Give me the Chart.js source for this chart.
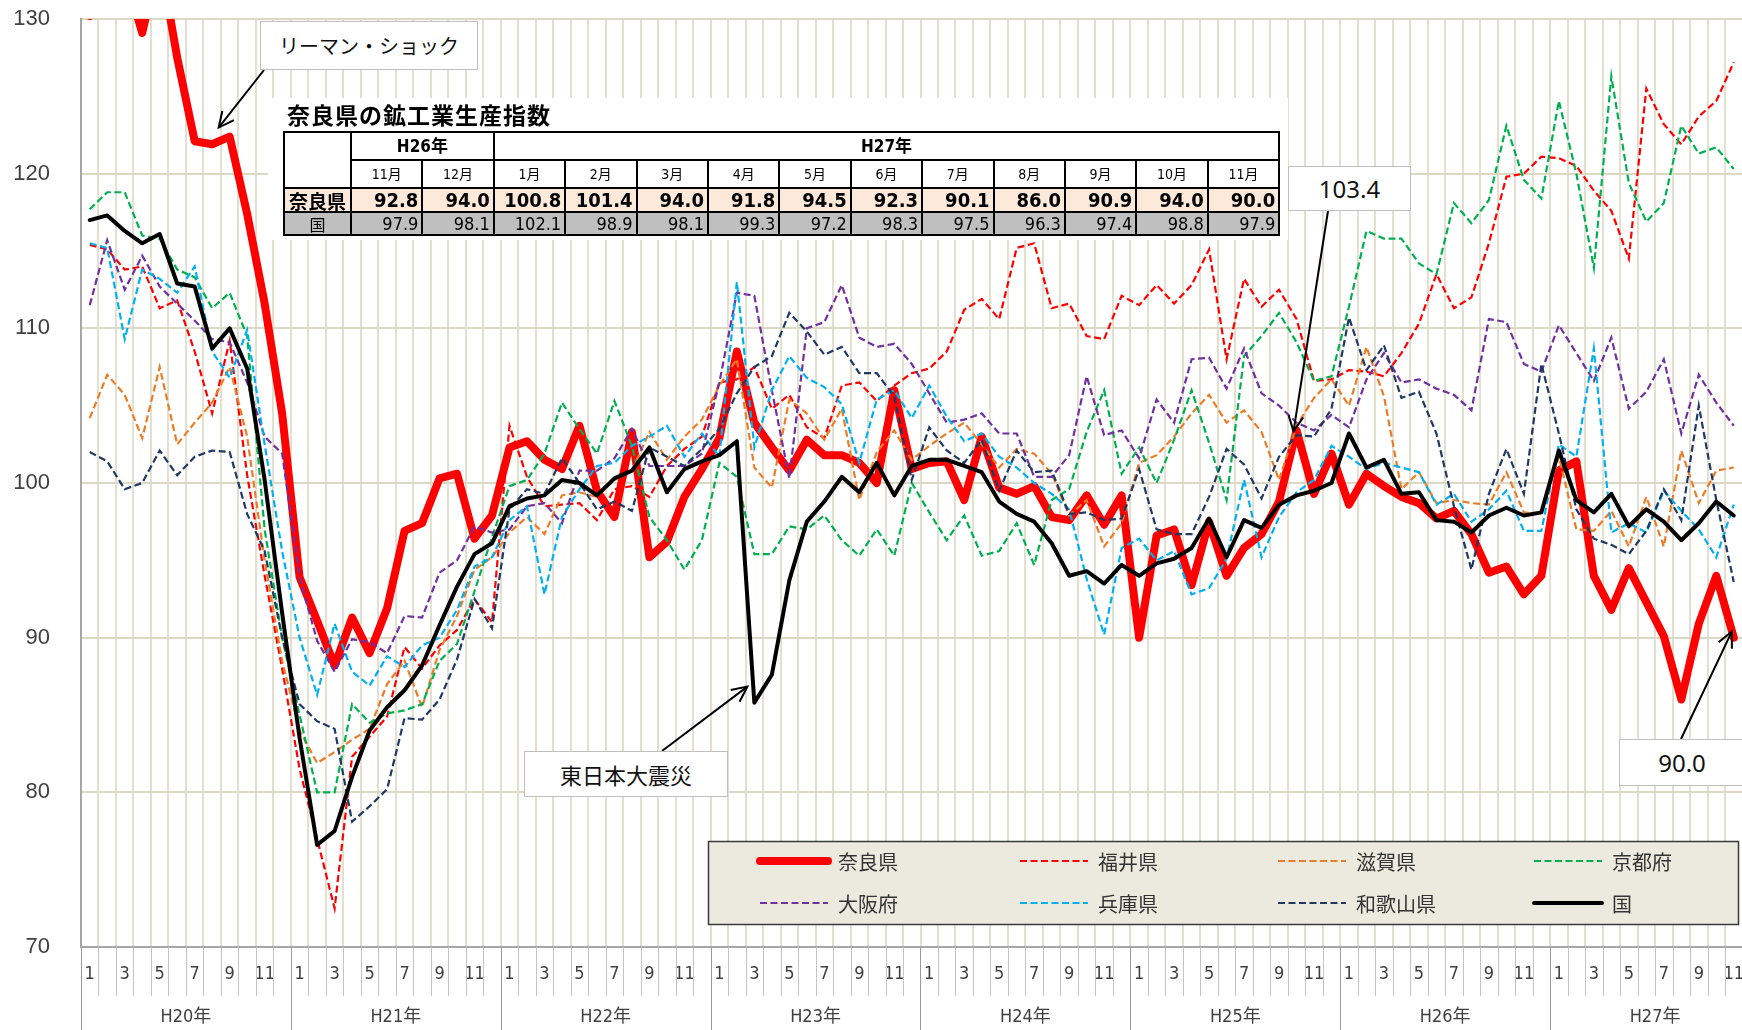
<!DOCTYPE html>
<html><head><meta charset="utf-8">
<script src="https://cdn.jsdelivr.net/npm/chart.js"></script>
<style>
html,body{margin:0;padding:0;background:#fff;overflow:hidden;width:1742px;height:1030px;}
#wrap{position:relative;width:1742px;height:1030px;overflow:hidden;}
#c{position:absolute;left:0;top:0;}
.note{position:absolute;background:#fff;border:1.5px solid #bfbfbf;color:#111;display:flex;align-items:center;justify-content:center;box-sizing:border-box;white-space:nowrap;}
#tbox{position:absolute;left:268px;top:98px;width:1020px;height:142px;background:#fff;}
#ttl{position:absolute;left:287px;top:100px;font:bold 23px 'Noto Sans CJK JP',sans-serif;letter-spacing:1px;color:#000;line-height:28px;}
#tbl{position:absolute;left:283px;top:131px;border-collapse:collapse;table-layout:fixed;width:996px;font-family:'Liberation Sans Narrow','DejaVu Sans Condensed','Noto Sans CJK JP',sans-serif;color:#000;}
#tbl td{border:2px solid #000;padding:0 3px;line-height:1;overflow:hidden;}
</style></head>
<body><div id="wrap">
<canvas id="c" width="1770" height="1030"></canvas>
<div id="tbox"></div>
<div id="ttl">奈良県の鉱工業生産指数</div>
<table id="tbl"></table>
<div class="note" style="left:260px;top:21px;width:218px;height:49px;font:20px 'Noto Sans CJK JP',sans-serif;">リーマン・ショック</div>
<div class="note" style="left:524px;top:751px;width:204px;height:46px;font:22px 'Noto Sans CJK JP',sans-serif;">東日本大震災</div>
<div class="note" style="left:1288px;top:166px;width:123px;height:45px;font:24px 'Noto Sans',sans-serif;">103.4</div>
<div class="note" style="left:1619px;top:739px;width:126px;height:47px;font:24px 'Noto Sans',sans-serif;">90.0</div>
</div>
<script>
const years = ['H20年','H21年','H22年','H23年','H24年','H25年','H26年','H27年'];
const months = ['1','2','3','4','5','6','7','8','9','10','11','12'];
const categories = years.flatMap(y => months.map(m => y + m + '月'));
const seriesNames = ['奈良県','福井県','滋賀県','京都府','大阪府','兵庫県','和歌山県','国'];

const nara = [
 130.2,134,133,129.1,134,127.5,122.1,121.9,122.4,117.4,111.6,104.5,
 93.9,91.1,88.2,91.3,89.0,91.9,96.9,97.4,100.3,100.6,96.4,97.9,
 102.3,102.7,101.5,100.9,103.7,99.5,97.8,103.3,95.2,96.2,99.1,100.9,
 102.9,108.5,103.9,102.3,100.8,102.8,101.8,101.8,101.3,100.0,106.0,100.9,
 101.3,101.4,98.9,103.0,99.7,99.3,99.8,97.8,97.6,99.2,97.3,99.2,
 90.0,96.6,97.0,93.4,97.5,94.0,95.8,96.7,98.8,103.4,99.3,101.9,
 98.6,100.6,99.8,99.1,98.7,97.7,98.2,96.7,94.2,94.6,92.8,94.0,
 100.8,101.4,94.0,91.8,94.5,92.3,90.1,86.0,90.9,94.0,90.0];
const fukui = [
 115.4,115.1,113.8,114.0,111.3,111.8,108.5,104.5,109.2,100.5,94.0,88.0,
 81.5,77.0,72.5,82.3,83.6,84.9,89.4,88.0,89.5,90.5,92.5,91.0,
 103.7,100.4,98.5,98.6,98.7,97.6,99.6,99.8,99.1,101.1,102.2,103.0,
 106.5,106.7,107.5,104.8,105.7,103.6,102.9,106.3,106.5,105.3,106.3,107.1,
 107.4,108.5,111.2,111.9,110.6,115.2,115.5,111.3,111.6,109.5,109.3,112.1,
 111.5,112.8,111.6,112.8,115.1,108.0,113.2,111.4,112.5,110.6,106.6,106.7,
 107.3,107.2,106.9,108.4,110.3,113.5,111.3,112.0,115.5,119.8,120.0,121.1,
 121.0,120.5,118.9,117.6,114.5,125.5,123.2,121.9,123.7,124.7,127.2];
const shiga = [
 104.2,107.0,105.7,102.9,107.5,102.5,103.9,105.2,107.5,103.0,95.0,88.5,
 84.0,81.9,82.6,83.4,84.1,87.0,88.5,85.5,89.2,91.4,94.4,95.2,
 96.8,97.8,96.7,99.2,99.4,99.1,100.2,100.8,103.3,101.5,103.0,104.1,
 106.3,108.0,101.0,99.7,105.4,104.5,102.8,104.8,98.9,102.0,103.4,101.5,
 102.4,103.2,103.9,102.5,101.0,102.2,101.9,100.6,97.9,98.9,95.9,97.4,
 101.3,101.8,103.0,104.5,105.7,103.9,104.7,103.3,100.2,103.7,105.5,106.7,
 105.0,108.8,105.6,99.6,100.7,98.7,98.9,98.7,98.6,100.7,98.1,98.0,
 101.7,97.0,96.9,98.2,95.9,99.1,95.9,102.1,98.7,100.8,101.0];
const kyoto = [
 117.7,118.8,118.8,116.0,115.8,113.8,113.3,111.3,112.3,109.5,97.0,90.0,
 85.0,80.0,80.0,85.7,84.5,85.1,85.3,85.7,88.5,89.6,93.0,96.5,
 99.8,100.2,101.9,105.2,103.5,101.9,105.3,102.4,97.8,96.3,94.4,96.3,
 101.3,100.4,95.4,95.4,97.2,97.0,97.9,96.3,95.3,97.0,95.3,100.0,
 98.1,96.3,97.9,95.3,95.6,97.4,94.7,98.9,99.6,103.3,106.0,100.6,
 102.3,100.0,102.8,106.0,102.6,98.9,108.2,109.5,111.0,109.1,106.6,106.9,
 111.4,116.3,115.8,115.8,114.2,113.5,118.1,116.8,118.3,123.1,119.6,118.4,
 124.7,120.0,113.9,126.3,119.4,116.9,118.1,123.1,121.3,121.7,120.3];
const osaka = [
 111.5,115.7,112.5,114.7,112.7,111.6,110.5,109.3,109.1,106.5,103.0,101.9,
 93.9,89.8,87.8,89.9,89.7,89.0,91.4,91.3,94.2,95.0,97.2,96.8,
 97.0,98.5,98.7,97.4,100.8,100.8,101.6,103.5,101.1,101.1,101.1,101.9,
 106.5,112.3,112.1,106.0,100.3,110.0,110.4,112.8,109.4,108.8,109.0,107.7,
 105.8,103.9,104.1,104.5,103.2,103.2,100.4,100.4,101.8,106.9,103.1,103.4,
 101.6,105.4,103.9,108.0,108.1,106.1,108.7,105.8,105.0,103.9,103.4,104.4,
 103.6,106.7,108.4,106.5,106.7,106.1,105.7,104.7,110.6,110.4,107.7,107.2,
 110.2,108.4,106.6,109.4,104.8,105.9,108.0,103.2,107.0,105.2,103.7];
const hyogo = [
 115.5,115.2,109.3,113.8,113.2,112.3,114.0,108.5,106.8,109.9,102.5,95.6,
 90.0,86.3,90.9,87.8,86.9,88.8,88.1,89.5,90.0,91.8,94.6,95.2,
 97.6,98.5,92.8,97.8,99.6,101.1,101.3,102.4,103.0,103.7,101.7,103.2,
 101.7,113.0,102.3,106.0,108.2,106.8,106.2,105.1,101.3,105.4,106.0,104.2,
 106.3,104.3,102.7,103.2,101.7,101.0,100.0,99.3,98.3,93.8,90.2,95.8,
 96.4,95.0,95.6,92.8,93.2,95.1,100.2,95.2,97.8,99.4,100.2,102.4,
 101.7,100.9,101.3,101.0,100.7,98.6,99.3,97.5,98.3,99.5,96.9,96.9,
 102.5,101.7,108.7,96.8,97.4,96.8,99.5,98.2,97.0,95.2,98.6];
const wakayama = [
 102.0,101.4,99.6,100.0,102.1,100.5,101.7,102.1,102.0,98.0,95.6,90.0,
 85.7,84.6,84.1,78.1,79.1,80.2,84.8,84.7,86.0,88.6,92.5,90.6,
 98.3,99.6,99.3,101.6,100.0,98.3,98.8,98.2,102.3,101.7,101.1,102.2,
 103.5,105.8,107.5,108.2,111.0,109.8,108.3,108.8,107.1,107.1,105.6,100.2,
 103.6,102.1,101.3,102.8,99.5,102.1,100.7,100.8,98.0,98.1,97.6,97.7,
 100.9,97.0,96.7,96.7,99.1,102.2,101.2,99.0,101.7,103.1,103.0,104.8,
 110.7,107.3,108.9,105.5,105.9,103.2,98.5,94.4,99.3,102.2,99.3,107.7,
 103.2,98.3,96.4,96.0,95.4,96.9,99.6,97.6,105.0,98.9,93.6];
const kuni = [
 117.0,117.3,116.3,115.5,116.1,112.9,112.7,108.7,110.0,107.4,100.2,91.6,
 83.5,76.6,77.5,81.0,84.0,85.5,86.6,88.2,90.8,93.3,95.4,96.1,
 98.5,99.0,99.2,100.2,100.0,99.2,100.3,100.8,102.3,99.4,100.9,101.4,
 101.8,102.7,85.8,87.6,93.7,97.5,98.8,100.4,99.4,101.3,99.2,101.1,
 101.5,101.5,101.1,100.7,98.8,98.0,97.5,96.1,94.0,94.3,93.5,94.7,
 94.0,94.8,95.1,95.8,97.7,95.2,97.6,97.1,98.6,99.2,99.5,100.0,
 103.2,101.0,101.5,99.3,99.4,97.6,97.5,96.8,97.9,98.4,97.9,98.1,
 102.1,98.9,98.1,99.3,97.2,98.3,97.5,96.3,97.4,98.8,97.9];

const tableYears = ['H26年','H27年'];
const tableMonths = ['11月','12月','1月','2月','3月','4月','5月','6月','7月','8月','9月','10月','11月'];
const tableStart = 82;

// ---- table built from the arrays ----
(function(){
  const t = document.getElementById('tbl');
  const nT = nara.slice(tableStart), kT = kuni.slice(tableStart);
  let h = '<colgroup><col style="width:67px">' + tableMonths.map(()=>'<col style="width:71.4px">').join('') + '</colgroup>';
  h += '<tr style="height:28px"><td rowspan="2"></td><td colspan="2" style="text-align:center;font-weight:bold;font-size:17px">'+tableYears[0]+'</td><td colspan="11" style="text-align:center;font-weight:bold;font-size:17px">'+tableYears[1]+'</td></tr>';
  h += '<tr style="height:28px">' + tableMonths.map(m=>'<td style="text-align:center;font-size:14px">'+m+'</td>').join('') + '</tr>';
  h += '<tr style="height:24px;background:#fde9d9"><td style="text-align:center;font-weight:bold;font-size:19px;font-family:\'Noto Sans CJK JP\'">奈良県</td>' + nT.map(v=>'<td style="text-align:right;font-weight:bold;font-size:20px">'+v.toFixed(1)+'</td>').join('') + '</tr>';
  h += '<tr style="height:23px;background:#bfbfbf"><td style="text-align:center;font-size:16px;font-family:\'Noto Sans CJK JP\'">国</td>' + kT.map(v=>'<td style="text-align:right;font-size:18px">'+v.toFixed(1)+'</td>').join('') + '</tr>';
  t.innerHTML = h;
})();

const seriesData = [nara, fukui, shiga, kyoto, osaka, hyogo, wakayama, kuni];
const seriesColors = ['#ff0000','#ff0000','#ec7c26','#00b050','#7030a0','#00b0f0','#1f3864','#000000'];
const DASH = [7,3.5];
const datasets = seriesNames.map((name, i) => {
  const solid = (i === 0 || i === 7);
  return {
    label: name,
    data: seriesData[i],
    borderColor: seriesColors[i],
    backgroundColor: seriesColors[i],
    borderWidth: i === 0 ? 8 : (i === 7 ? 4 : 2.2),
    borderDash: solid ? [] : DASH,
    borderJoinStyle: solid ? 'round' : 'miter',
    borderCapStyle: solid ? 'round' : 'butt',
    pointRadius: 0,
    tension: 0,
    fill: false,
    clip: 0,
    order: i === 7 ? 0 : (i === 0 ? 8 : 8 - i)
  };
});

function arrow(ctx, x1, y1, x2, y2) {
  ctx.beginPath(); ctx.moveTo(x1, y1); ctx.lineTo(x2, y2); ctx.stroke();
  const a = Math.atan2(y2 - y1, x2 - x1), L = 17, s = 0.45;
  ctx.beginPath();
  ctx.moveTo(x2 - L * Math.cos(a - s), y2 - L * Math.sin(a - s));
  ctx.lineTo(x2, y2);
  ctx.lineTo(x2 - L * Math.cos(a + s), y2 - L * Math.sin(a + s));
  ctx.stroke();
}

const decor = {
  id: 'decor',
  afterDraw(chart) {
    const ctx = chart.ctx, ca = chart.chartArea, xs = chart.scales.x, ys = chart.scales.y;
    const n = categories.length;
    const w = xs.getPixelForValue(1) - xs.getPixelForValue(0);
    ctx.save();
    // category separators below axis
    for (let k = 0; k <= n; k++) {
      const px = Math.round(xs.getPixelForValue(0) - w / 2 + k * w) + 0.5;
      ctx.beginPath();
      ctx.strokeStyle = k % 12 === 0 ? '#9a9a9a' : '#c4c4c4';
      ctx.lineWidth = 1;
      ctx.moveTo(px, ca.bottom);
      ctx.lineTo(px, k % 12 === 0 ? 1030 : 996);
      ctx.stroke();
    }
    // year labels
    ctx.fillStyle = '#404040';
    ctx.font = "18px 'Liberation Sans Narrow','DejaVu Sans Condensed','Noto Sans CJK JP',sans-serif";
    ctx.textAlign = 'center'; ctx.textBaseline = 'middle';
    years.forEach((yl, j) => {
      const cx = (xs.getPixelForValue(12 * j) + xs.getPixelForValue(12 * j + 11)) / 2;
      ctx.fillText(yl, cx, 1017);
    });
    // legend
    ctx.fillStyle = '#ece9df';
    ctx.fillRect(708, 841, 1030, 83);
    ctx.strokeStyle = '#3a3a3a'; ctx.lineWidth = 1.5;
    ctx.strokeRect(708.5, 841.5, 1030, 83);
    const lx = [760, 1020, 1278, 1534], ly = [861, 903];
    chart.data.datasets.forEach((ds, i) => {
      const x0 = lx[i % 4], y0 = ly[Math.floor(i / 4)];
      ctx.save();
      ctx.strokeStyle = ds.borderColor; ctx.lineWidth = ds.borderWidth;
      ctx.setLineDash(ds.borderDash); ctx.lineCap = ds.borderCapStyle;
      ctx.beginPath(); ctx.moveTo(x0, y0); ctx.lineTo(x0 + 68, y0); ctx.stroke();
      ctx.restore();
      ctx.fillStyle = '#333';
      ctx.font = "20px 'Noto Sans CJK JP',sans-serif";
      ctx.textAlign = 'left'; ctx.textBaseline = 'middle';
      ctx.fillText(ds.label, x0 + 78, y0 + 1);
    });
    // arrows to data points
    ctx.strokeStyle = '#000'; ctx.lineWidth = 2; ctx.setLineDash([]); ctx.lineCap = 'butt';
    const P = (i, arr) => [xs.getPixelForValue(i), ys.getPixelForValue(arr[i])];
    let p = P(8, nara); arrow(ctx, 264, 70, p[0] - 11, p[1] - 9);
    p = P(38, kuni); arrow(ctx, 662, 751, p[0] - 7, p[1] - 16);
    p = P(69, nara); arrow(ctx, 1328, 211, p[0] - 3, p[1] + 1);
    p = P(94, nara); arrow(ctx, 1681, 739, p[0] - 2, p[1] - 6);
    ctx.restore();
  }
};

new Chart(document.getElementById('c'), {
  type: 'line',
  data: { labels: categories, datasets: datasets },
  options: {
    responsive: false,
    animation: false,
    layout: { padding: { top: 19, right: 10, left: 0, bottom: 0 } },
    plugins: { legend: { display: false }, tooltip: { enabled: false } },
    scales: {
      x: {
        offset: true,
        grid: { offset: true, color: '#e4e0d0', lineWidth: 2, drawTicks: false },
        border: { color: '#a6a6a6', width: 2 },
        ticks: {
          autoSkip: false, maxRotation: 0, minRotation: 0, padding: 17,
          color: '#404040',
          font: { family: "'Liberation Sans Narrow','DejaVu Sans Condensed',sans-serif", size: 18 },
          callback: (v, i) => (i % 2 === 0 ? months[i % 12] : '')
        },
        afterFit: s => { s.height = 83; }
      },
      y: {
        min: 70, max: 130,
        ticks: { stepSize: 10, padding: 0, color: '#404040', font: { family: "'Liberation Sans',sans-serif", size: 22 } },
        grid: { color: '#dcd8c6', lineWidth: 2, drawTicks: true, tickLength: 31, tickColor: 'rgba(0,0,0,0)' },
        border: { color: '#a6a6a6', width: 2 },
        afterFit: s => { s.width = 81; }
      }
    }
  },
  plugins: [decor]
});
</script>
</body></html>
